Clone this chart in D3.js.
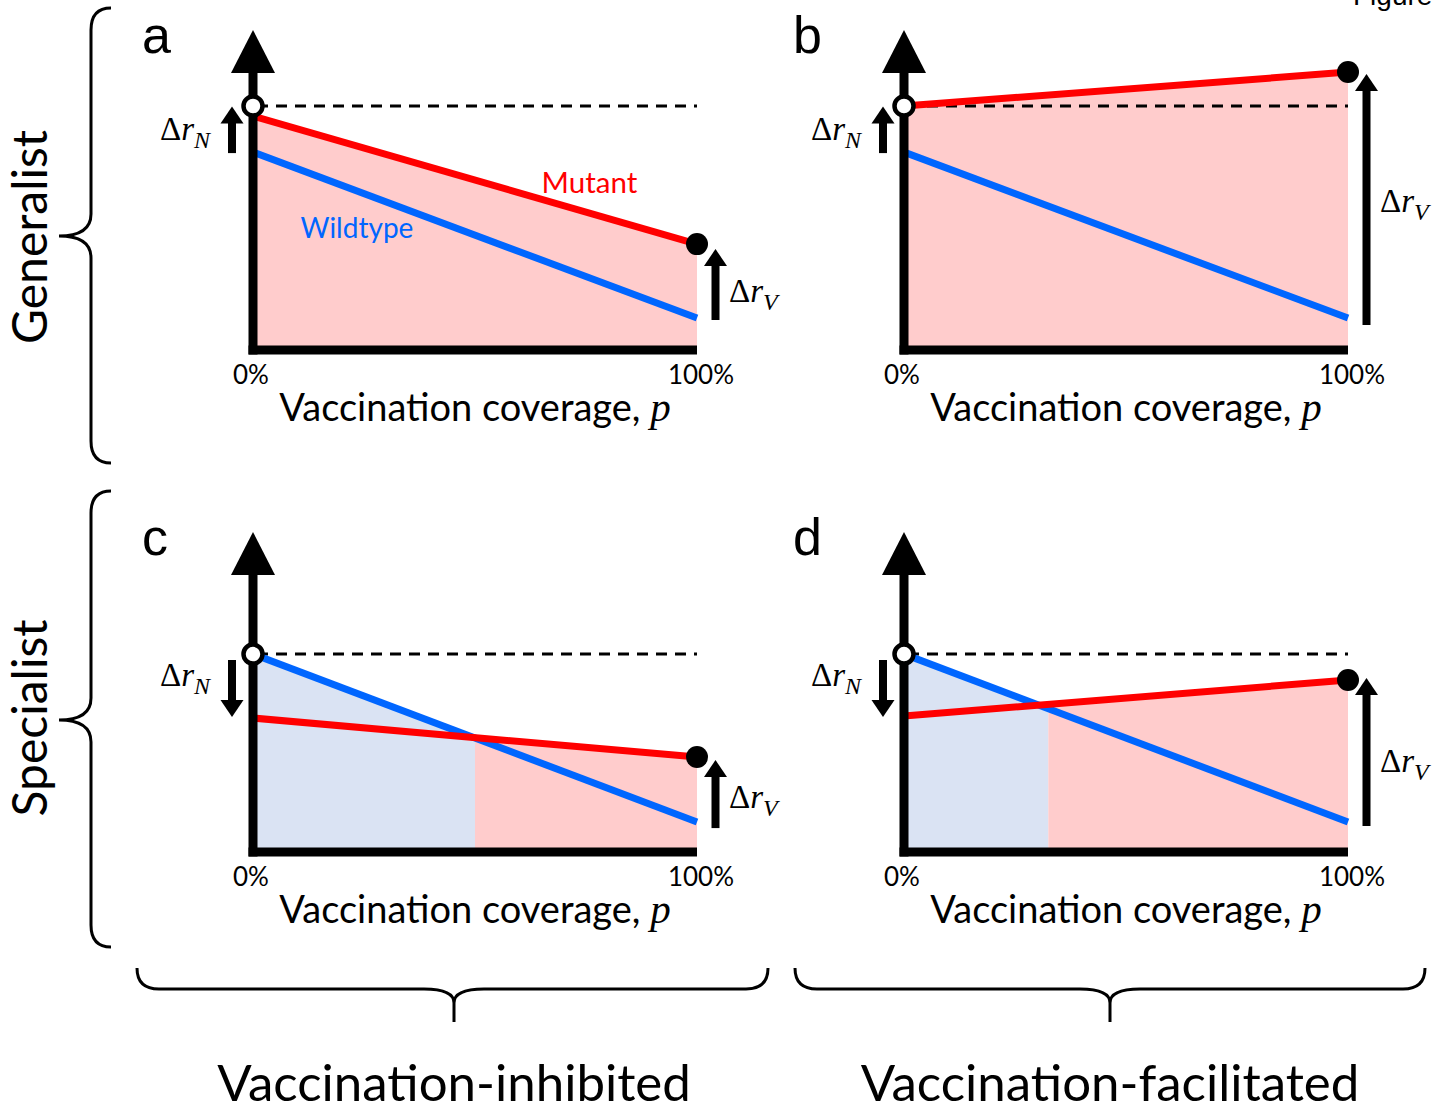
<!DOCTYPE html>
<html><head><meta charset="utf-8">
<script src="https://cdn.jsdelivr.net/npm/d3@7"></script>
<style>html,body{margin:0;padding:0;background:#fff;}svg{display:block;}</style>
</head><body>
<script>
// ---- data ----
const panelLetters = ["a", "b", "c", "d"];
const rowLabels = ["Generalist", "Specialist"];
const colLabels = ["Vaccination-inhibited", "Vaccination-facilitated"];
const tickLabels = ["0%", "100%"];
const xTitle = "Vaccination coverage, ";
const xTitleVar = "p";
const seriesNames = ["Wildtype", "Mutant"];
// relative growth values at p = 0 and p = 1 (100%)
const wildtypeStart = [0.811, 0.811, 0.811, 0.811];
const wildtypeEnd   = [0.131, 0.131, 0.123, 0.123];
const mutantStart   = [0.959, 1.000, 0.549, 0.557];
const mutantEnd     = [0.434, 1.139, 0.389, 0.705];
const referenceLevel = [1.000, 1.000, 0.811, 0.811];
const fillSplit = [null, null, 0.50, 0.325];
// annotation arrows [from, to] in y units
const arrowN = [[0.807, 0.998], [0.807, 0.998], [0.787, 0.553], [0.787, 0.553]];
const arrowV = [[0.123, 0.414], [0.102, 1.131], [0.098, 0.377], [0.107, 0.713]];
const labelN = [0.861, 0.861, 0.680, 0.680];
const labelV = [0.197, 0.566, 0.180, 0.328];

// ---- layout ----
const W = 1449, H = 1113;
const svg = d3.select("body").append("svg").attr("width", W).attr("height", H);
const SANS = "Lato, 'Open Sans', sans-serif";
const SERIF = "'Liberation Serif', 'DejaVu Serif', serif";
const RED = "#ff0000", BLUE = "#0066ff", PINK = "#ffcccc", LBLUE = "#dae3f3";

const origins = [[253, 350], [904, 350], [253, 852], [904, 852]];
const plotW = 444, unitH = 244;

// top-right cropped "Figure" (cut off at the top edge, as in the source)
svg.append("text").attr("x", 1353).attr("y", 5).attr("font-family", "'Liberation Sans', Arial, sans-serif")
  .attr("font-size", 28).attr("fill", "#000").text("Figure");

panelLetters.forEach((letter, i) => {
  const [x0, yb] = origins[i];
  const x = d3.scaleLinear().domain([0, 1]).range([x0, x0 + plotW]);
  const y = d3.scaleLinear().domain([0, 1]).range([yb, yb - unitH]);
  const g = svg.append("g");
  const wt = p => wildtypeStart[i] + (wildtypeEnd[i] - wildtypeStart[i]) * p;
  const mu = p => mutantStart[i] + (mutantEnd[i] - mutantStart[i]) * p;
  const env = p => Math.max(wt(p), mu(p));
  const dA = wildtypeStart[i] - mutantStart[i];
  const dB = (wildtypeEnd[i] - wildtypeStart[i]) - (mutantEnd[i] - mutantStart[i]);
  const cross = dB !== 0 ? -dA / dB : null;
  const area = d3.area().x(p => x(p)).y0(yb).y1(p => y(env(p)));
  function pts(a, b) {
    const s = [a, b];
    if (cross !== null && cross > a && cross < b) s.push(cross);
    return s.sort((m, n) => m - n);
  }
  if (fillSplit[i] === null) {
    g.append("path").attr("d", area(pts(0, 1))).attr("fill", PINK);
  } else {
    g.append("path").attr("d", area(pts(0, fillSplit[i]))).attr("fill", LBLUE);
    g.append("path").attr("d", area(pts(fillSplit[i], 1))).attr("fill", PINK);
  }
  // dashed reference
  g.append("line").attr("x1", x(0)).attr("x2", x(1)).attr("y1", y(referenceLevel[i])).attr("y2", y(referenceLevel[i]))
    .attr("stroke", "#000").attr("stroke-width", 3).attr("stroke-dasharray", "11,8").attr("stroke-dashoffset", -4);
  // lines
  const line = d3.line().x(d => x(d[0])).y(d => y(d[1]));
  g.append("path").attr("d", line([[0, wildtypeStart[i]], [1, wildtypeEnd[i]]]))
    .attr("stroke", BLUE).attr("stroke-width", 7).attr("fill", "none");
  g.append("path").attr("d", line([[0, mutantStart[i]], [1, mutantEnd[i]]]))
    .attr("stroke", RED).attr("stroke-width", 7).attr("fill", "none");
  // axes
  g.append("line").attr("x1", x0 - 4.5).attr("x2", x(1)).attr("y1", yb).attr("y2", yb)
    .attr("stroke", "#000").attr("stroke-width", 9);
  g.append("line").attr("x1", x0).attr("x2", x0).attr("y1", yb + 4.5).attr("y2", yb - 280)
    .attr("stroke", "#000").attr("stroke-width", 9);
  g.append("path").attr("d", `M${x0},${yb - 320}L${x0 + 22},${yb - 277}L${x0 - 22},${yb - 277}Z`).attr("fill", "#000");
  // points
  g.append("circle").attr("cx", x(0)).attr("cy", y(referenceLevel[i])).attr("r", 9.5)
    .attr("fill", "#fff").attr("stroke", "#000").attr("stroke-width", 4.5);
  g.append("circle").attr("cx", x(1)).attr("cy", y(mutantEnd[i])).attr("r", 11).attr("fill", "#000");
  // arrows
  function arrow(ax, yFrom, yTo) {
    const dir = yTo < yFrom ? -1 : 1;
    const hl = 17, hw = 11.5;
    g.append("line").attr("x1", ax).attr("x2", ax).attr("y1", yFrom).attr("y2", yTo - dir * hl + dir * 1)
      .attr("stroke", "#000").attr("stroke-width", 8);
    g.append("path").attr("d", `M${ax},${yTo}L${ax + hw},${yTo - dir * hl}L${ax - hw},${yTo - dir * hl}Z`).attr("fill", "#000");
  }
  arrow(x0 - 21, y(arrowN[i][0]), y(arrowN[i][1]));
  arrow(x(1) + 18.5, y(arrowV[i][0]), y(arrowV[i][1]));
  function deltaLabel(lx, ly, sub) {
    const t = g.append("text").attr("x", lx).attr("y", ly).attr("font-family", SERIF).attr("font-size", 33).attr("fill", "#000");
    t.append("tspan").text("Δ");
    t.append("tspan").attr("font-style", "italic").text("r");
    t.append("tspan").attr("font-style", "italic").attr("font-size", 24).attr("dy", 8).attr("dx", 0).text(sub);
  }
  deltaLabel(x0 - 93, y(labelN[i]), "N");
  deltaLabel(x(1) + 32, y(labelV[i]), "V");
  // ticks
  g.append("text").attr("x", x(0) - 2).attr("y", yb + 34).attr("text-anchor", "middle")
    .attr("font-family", SANS).attr("font-size", 26).text(tickLabels[0]);
  g.append("text").attr("x", x(1) + 4).attr("y", yb + 34).attr("text-anchor", "middle")
    .attr("font-family", SANS).attr("font-size", 26).text(tickLabels[1]);
  const tt = g.append("text").attr("x", x(0.5)).attr("y", yb + 71).attr("text-anchor", "middle")
    .attr("font-family", SANS).attr("font-size", 38);
  tt.append("tspan").text(xTitle);
  tt.append("tspan").attr("font-family", SERIF).attr("font-style", "italic").attr("font-size", 41).text(xTitleVar);
  // panel letter
  g.append("text").attr("x", x0 - 111).attr("y", yb - 297).attr("font-family", "'Liberation Sans', Arial, sans-serif")
    .attr("font-size", 52).text(letter);
  if (i === 0) {
    g.append("text").attr("x", x(0.65)).attr("y", 193).attr("font-family", SANS).attr("font-size", 29.5)
      .attr("fill", RED).text(seriesNames[1]);
    g.append("text").attr("x", x(0.107)).attr("y", 238).attr("font-family", SANS).attr("font-size", 28)
      .attr("fill", BLUE).text(seriesNames[0]);
  }
});

// braces
function vBrace(xTip, xLine, xPoint, yt, yb, yc) {
  const r = 22, c = 22;
  return `M${xTip},${yt} Q${xLine},${yt} ${xLine},${yt + r} L${xLine},${yc - c}` +
    ` Q${xLine},${yc} ${xPoint},${yc} Q${xLine},${yc} ${xLine},${yc + c}` +
    ` L${xLine},${yb - r} Q${xLine},${yb} ${xTip},${yb}`;
}
function hBrace(xl, xr, yTip, yLine, yPoint, xc) {
  const r = 22, c = 30, cd = 14;
  return `M${xl},${yTip} Q${xl},${yLine} ${xl + r},${yLine} L${xc - c},${yLine}` +
    ` Q${xc},${yLine} ${xc},${yLine + cd} Q${xc},${yLine} ${xc + c},${yLine}` +
    ` L${xr - r},${yLine} Q${xr},${yLine} ${xr},${yTip} M${xc},${yLine + cd - 1} L${xc},${yPoint}`;
}
const braceStyle = s => s.attr("fill", "none").attr("stroke", "#000").attr("stroke-width", 3);
braceStyle(svg.append("path").attr("d", vBrace(111, 91, 59, 8, 463, 236)));
braceStyle(svg.append("path").attr("d", vBrace(111, 91, 59, 491, 947, 720)));
braceStyle(svg.append("path").attr("d", hBrace(137, 768, 968, 989, 1022, 454)));
braceStyle(svg.append("path").attr("d", hBrace(795, 1425, 968, 989, 1022, 1110)));

// row labels
[[237, 0], [718, 1]].forEach(([cy, k]) => {
  svg.append("text").attr("transform", `translate(47,${cy}) rotate(-90)`).attr("text-anchor", "middle")
    .attr("font-family", SANS).attr("font-size", 48).text(rowLabels[k]);
});
// column labels
[[454, 0], [1110, 1]].forEach(([cx, k]) => {
  svg.append("text").attr("x", cx).attr("y", 1101).attr("text-anchor", "middle")
    .attr("font-family", SANS).attr("font-size", 51).text(colLabels[k]);
});
</script>
</body></html>
